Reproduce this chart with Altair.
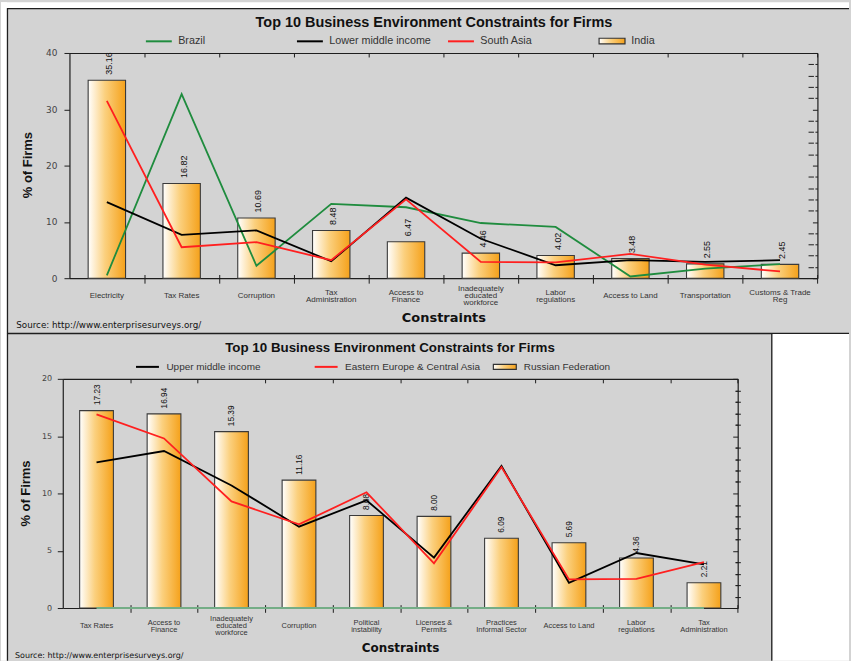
import altair as alt
import pandas as pd

# ---------------- data: top panel ----------------
top_categories = ["Electricity", "Tax Rates", "Corruption", "Tax\nAdministration",
                  "Access to\nFinance", "Inadequately\neducated\nworkforce",
                  "Labor\nregulations", "Access to Land", "Transportation",
                  "Customs & Trade\nReg"]
top_india = [35.16, 16.82, 10.69, 8.48, 6.47, 4.46, 4.02, 3.48, 2.55, 2.45]
top_brazil = [0.5, 32.7, 2.2, 13.2, 12.6, 9.8, 9.1, 0.3, 1.7, 2.5]
top_lower_middle = [13.5, 7.7, 8.5, 3.0, 14.3, 7.0, 2.3, 3.2, 2.9, 3.2]
top_south_asia = [31.5, 5.5, 6.4, 3.2, 14.0, 2.9, 2.8, 4.3, 2.4, 1.2]

# ---------------- data: bottom panel ----------------
bottom_categories = ["Tax Rates", "Access to\nFinance", "Inadequately\neducated\nworkforce",
                     "Corruption", "Political\ninstability", "Licenses &\nPermits",
                     "Practices\nInformal Sector", "Access to Land", "Labor\nregulations",
                     "Tax\nAdministration"]
bottom_russia = [17.23, 16.94, 15.39, 11.16, 8.08, 8.00, 6.09, 5.69, 4.36, 2.21]
bottom_upper_middle = [12.7, 13.7, 10.7, 7.1, 9.4, 4.4, 12.4, 2.2, 4.8, 3.8]
bottom_eeca = [16.9, 14.8, 9.3, 7.3, 10.1, 3.9, 12.3, 2.5, 2.55, 4.0]
bottom_green_base = [0, 0, 0, 0, 0, 0, 0, 0, 0, 0]

GRAY = "#d3d3d3"
DARK = "#1e1e1e"
TXT = "#333333"
GRAD = {"gradient": "linear", "x1": 0, "x2": 1, "y1": 0, "y2": 0,
        "stops": [{"offset": 0, "color": "#ffffff"},
                  {"offset": 0.45, "color": "#fbd07e"},
                  {"offset": 1, "color": "#f5a11a"}]}
GRAD_EXPR = ("{gradient: 'linear', x1: 0, y1: 0, x2: 1, y2: 0, stops: ["
             "{offset: 0, color: '#ffffff'}, {offset: 0.45, color: '#fbd07e'}, "
             "{offset: 1, color: '#f5a11a'}]}")

one = pd.DataFrame({"k": [0]})


def deco_rect(x0, x1, y0, y1, color):
    return alt.Chart(one).mark_rect(color=color, strokeWidth=0).encode(
        x=alt.value(x0), x2=alt.value(x1), y=alt.value(y0), y2=alt.value(y1))


def deco_rule(x0, x1, y0, y1):
    return alt.Chart(one).mark_rule(color=DARK, strokeWidth=1.3).encode(
        x=alt.value(x0), x2=alt.value(x1), y=alt.value(y0), y2=alt.value(y1))


def deco_text(text, x, y, font, size, weight, align="left"):
    return alt.Chart(one).mark_text(text=text, font=font, fontSize=size, fontWeight=weight,
                                    align=align, baseline="alphabetic", color="#111111").encode(
        x=alt.value(x), y=alt.value(y))


def build_panel(c):
    cats = c["cats"]
    W, H, shift = c["W"], c["H"], c["shift"]
    step = (W - shift) / len(cats)
    xscale = alt.Scale(domain=cats, range=[shift, W], paddingInner=0.5, paddingOuter=0.25)
    yscale = alt.Scale(domain=[0, c["y_max"]], nice=False, zero=True)
    majors = list(range(0, c["y_max"] + 1, c["y_major"]))
    minors = [v for v in range(0, c["y_max"] + 1, c["y_minor"]) if v % c["y_major"]]
    every = list(range(0, c["y_max"] + 1, c["y_minor"]))

    bars_df = pd.DataFrame({"category": cats, "value": c["bar_vals"], "idx": range(len(cats))})
    rows = []
    for name, vals in zip(c["line_names"], c["line_vals"]):
        for i, (cat, v) in enumerate(zip(cats, vals)):
            rows.append({"category": cat, "series": name, "value": v, "idx": i})
    lines_df = pd.DataFrame(rows)

    X = lambda axis: alt.X("category:N", sort=cats, scale=xscale, axis=axis)
    Y = lambda axis: alt.Y("value:Q", scale=yscale, axis=axis)

    pad = c["cat_pad"]
    lh = 7.2
    x_main = alt.Axis(title="Constraints", ticks=False, tickSize=0, domain=True, domainColor=DARK,
                      domainWidth=1.2, labelExpr="split(datum.label, '\\n')", labelFont="Liberation Sans",
                      labelFontSize=c["cat_font"], labelColor=TXT, labelBaseline="middle",
                      labelPadding={"condition": [
                          {"test": "length(split(datum.label, '\\n')) === 3", "value": pad - lh},
                          {"test": "length(split(datum.label, '\\n')) === 2", "value": pad - lh / 2}],
                          "value": pad},
                      labelLineHeight=lh, labelAngle=0, labelOverlap=False,
                      labelLimit=300, grid=False, titleX=c["xt_x"], titleY=c["xt_y"],
                      titleFont="DejaVu Sans", titleFontSize=c["xt_size"], titleFontWeight="bold",
                      titleColor="#111111", titleAlign="center", titleBaseline="alphabetic")
    y_main = alt.Axis(title="% of Firms", values=majors, tickSize=5.5, tickColor=DARK, domainColor=DARK,
                      domainWidth=1.2, labelFont="DejaVu Sans", labelFontSize=c["y_font"], labelColor="#444444",
                      labelPadding=c["y_pad"], labelFlush=False, labelOverlap=False, format="d",
                      offset=-shift, grid=False, titleAngle=270, titleX=c["yt_x"], titleY=c["yt_y"],
                      titleAlign="center", titleBaseline="middle", titleFont="Liberation Sans",
                      titleFontWeight="bold", titleFontSize=13, titleColor="#111111")
    y_minor = alt.Axis(values=minors, tickSize=5.4, tickColor=DARK, offset=-(shift + 2.7), labels=False,
                       domain=False, title=None, grid=False)
    y_right = alt.Axis(values=every, orient="left", offset=-W, labels=False, domain=True, domainColor=DARK,
                       domainWidth=1.2, tickColor=DARK, title=None, grid=False,
                       tickSize={"condition": {"test": f"datum.value % {c['y_major']} === 0", "value": 5},
                                 "value": 2.5})
    x_cross = alt.Axis(orient="bottom", offset=-c["x_up"], tickSize=c["x_up"] + c["x_down"],
                       tickOffset=step / 2, tickColor=DARK, labels=False, domain=False, title=None, grid=False)
    x_top = alt.Axis(orient="bottom", offset=-H, tickSize=4, tickOffset=step / 2, tickColor=DARK,
                     labels=False, domain=True, domainColor=DARK, domainWidth=1.2, title=None, grid=False)

    bar_name = c["bar_name"]
    test = f"datum.value === '{bar_name}'"
    legend = alt.Legend(orient="none", legendX=c["leg_x"], legendY=c["leg_y"], direction="horizontal",
                        columns=len(c["line_names"]) + 1, gridAlign="all", columnPadding=c["leg_pad"],
                        symbolType={"expr": f"{test} ? 'M-1,-0.22H1V0.22H-1Z' : 'stroke'"},
                        symbolFillColor={"expr": f"{test} ? {GRAD_EXPR} : 'transparent'"},
                        symbolStrokeWidth={"expr": f"{test} ? 1.2 : 2"},
                        symbolSize=c["sym"] ** 2,
                        labelFont="Liberation Sans", labelFontSize=c["leg_font"], labelColor=TXT,
                        labelOffset=14, title=None, padding=0)

    bars = alt.Chart(bars_df).mark_bar(fill=GRAD, stroke="#3a3a3a", strokeWidth=1.1).encode(
        x=X(x_main), y=Y(y_main))
    labels = alt.Chart(bars_df).mark_text(angle=270, align="left", baseline="middle", dx=5.5, dy=c["lab_dy"],
                                          font="Liberation Sans", fontSize=c["val_font"], color="#111111").encode(
        x=X(None), y=Y(None), text=alt.Text("value:Q", format=".2f"))
    lines = alt.Chart(lines_df).mark_line(strokeWidth=1.8).encode(
        x=X(None), y=Y(None),
        color=alt.Color("series:N",
                        scale=alt.Scale(domain=c["line_names"] + [bar_name],
                                        range=c["line_colors"] + ["#333333"]),
                        legend=legend),
        order=alt.Order("idx:Q"))
    dummy = lambda xa, ya: alt.Chart(bars_df).mark_point(opacity=0).encode(x=X(xa), y=Y(ya))

    layers = c["under"] + [bars, labels, lines] + c["extra"](X, Y) + [
        dummy(x_cross, None), dummy(x_top, None), dummy(None, y_minor), dummy(None, y_right),
        deco_text(c["title"], c["t_x"], c["t_y"], "Liberation Sans", c["t_size"], "bold", "center"),
        deco_text("Source: http://www.enterprisesurveys.org/", c["s_x"], c["s_y"], "DejaVu Sans",
                  c["s_size"], "normal"),
    ]
    return alt.layer(*layers).resolve_axis(x="independent", y="independent").properties(width=W, height=H)


def no_extra(X, Y):
    return []


def green_base(X, Y):
    df = pd.DataFrame({"category": bottom_categories, "value": bottom_green_base,
                       "idx": range(len(bottom_categories))})
    return [alt.Chart(df).mark_line(color="#74ad86", strokeWidth=2).encode(
        x=X(None), y=Y(None), order=alt.Order("idx:Q"))]


top = build_panel(dict(
    cats=top_categories, W=757.3, H=226, shift=6.7, y_max=40, y_major=10, y_minor=2,
    bar_name="India", bar_vals=top_india,
    line_names=["Brazil", "Lower middle income", "South Asia"],
    line_vals=[top_brazil, top_lower_middle, top_south_asia],
    line_colors=["#1f8c3e", "#000000", "#ff1f1f"],
    cat_font=8, cat_pad=17.5, y_font=9, y_pad=7, xt_x=382, xt_y=43.7, xt_size=13,
    yt_x=-42.2, yt_y=112, x_up=3.7, x_down=5,
    leg_x=91, leg_y=-17.5, leg_pad=12.6, sym=26, leg_font=10.8,
    lab_dy=2, val_font=9,
    title="Top 10 Business Environment Constraints for Firms", t_x=372.5, t_y=-26, t_size=14.5,
    s_x=-46.7, s_y=276.3, s_size=8.8,
    under=[deco_rect(-62, 789, -51, -45, "white"), deco_rect(-62, -56, -51, 610, "white"),
           deco_rule(-56, 789, -44.5, -44.5), deco_rule(-55.5, -55.5, -45, 610),
           deco_rule(-56, 789, 281.5, 281.5)],
    extra=no_extra,
))

bottom = build_panel(dict(
    cats=bottom_categories, W=677.3, H=230, shift=0, y_max=20, y_major=5, y_minor=1,
    bar_name="Russian Federation", bar_vals=bottom_russia,
    line_names=["Upper middle income", "Eastern Europe & Central Asia"],
    line_vals=[bottom_upper_middle, bottom_eeca],
    line_colors=["#000000", "#ff1f1f"],
    cat_font=7.5, cat_pad=17.7, y_font=8, y_pad=5.8, xt_x=338.4, xt_y=44, xt_size=12,
    yt_x=-37, yt_y=114.6, x_up=3.4, x_down=4.3,
    leg_x=80, leg_y=-17, leg_pad=7.3, sym=23, leg_font=10,
    lab_dy=1, val_font=8.3,
    title="Top 10 Business Environment Constraints for Firms", t_x=328.4, t_y=-26.7, t_size=13.4,
    s_x=-48, s_y=279.7, s_size=8,
    under=[deco_rect(712, 789, -45, 283, "white"), deco_rule(711.5, 711.5, -45, 283)],
    extra=green_base,
))

chart = alt.vconcat(top, bottom, spacing=101, bounds="flush").resolve_scale(
    x="independent", y="independent", color="independent").resolve_legend(
    color="independent").properties(padding=0, background=GRAY).configure_view(stroke="transparent")

chart.save("out.html", embed_options={"renderer": "svg", "actions": False})
